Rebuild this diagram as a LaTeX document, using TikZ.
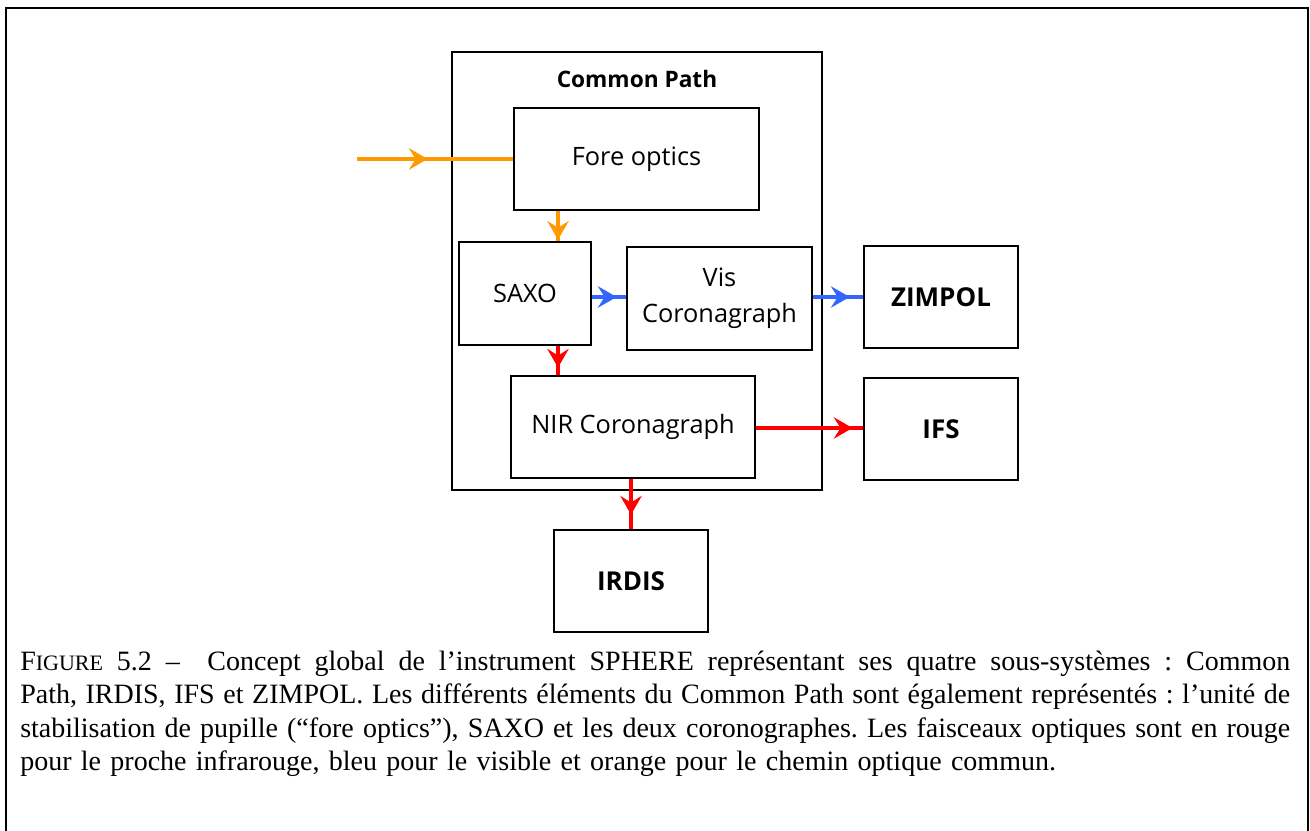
\documentclass[tikz,border=0pt]{standalone}
\usepackage{fontspec}
\setmainfont{Liberation Serif}
\newfontfamily\dfont{Open Sans}
\usetikzlibrary{arrows.meta}
\definecolor{cO}{HTML}{FF9900}
\definecolor{cB}{HTML}{3366FF}
\definecolor{cR}{HTML}{FF0000}
\newcommand\capline[1]{\makebox[952.5pt][s]{\spaceskip=0pt\xspaceskip=0pt\frenchspacing #1}}
\tikzset{
  box/.style={draw, line width=1.1pt, inner sep=0pt, align=center,
    font=\dfont\fontsize{19}{27}\selectfont},
  sub/.style={box, font=\dfont\bfseries\fontsize{19.5}{24}\selectfont,
    minimum width=115.5pt, minimum height=76.5pt},
  ln/.style={line width=2.5pt, draw=#1},
  tipped/.style={ln=#1, -{Stealth[length=14pt,width=16pt,inset=5pt,fill=#1]}}
}
\begin{document}
\begin{tikzpicture}[x={(0.75pt,0)}, y={(0,-0.75pt)}]
\useasboundingbox (0,0) rectangle (1310,831);
% outer frame
\draw[line width=1.5pt] (6,831) -- (6,8) -- (1308,8) -- (1308,831);
% common path
\node[box, minimum width=277.5pt, minimum height=328.5pt] (cp) at (637,271) {};
\node[font=\dfont\bfseries\fontsize{17}{20}\selectfont] (cpl) at (637,79) {Common Path};
\node[box, minimum width=183.75pt, minimum height=76.5pt] (fore) at (636.5,159) {Fore optics};
\node[box, minimum width=99pt, minimum height=77.25pt] (saxo) at (525,293.5) {SAXO};
\node[box, minimum width=138.75pt, minimum height=77.25pt] (vis) at (719.5,298.5) {Vis\\Coronagraph};
\node[box, minimum width=183pt, minimum height=76.5pt] (nir) at (633,427) {NIR Coronagraph};
\node[sub] (zimpol) at (941,297) {ZIMPOL};
\node[sub] (ifs) at (941,429) {IFS};
\node[sub] (irdis) at (631,581) {IRDIS};
% helper coordinates
\coordinate (in) at (357,159);
\coordinate (c1) at (558,0);
\coordinate (c2) at (631,0);
\coordinate (r1) at (0,297);
\coordinate (r2) at (0,428);
% connector geometry
\coordinate (a1) at (fore.south -| c1); \coordinate (b1) at (saxo.north -| c1);
\coordinate (a2) at (saxo.east |- r1);  \coordinate (b2) at (vis.west |- r1);
\coordinate (a3) at (vis.east |- r1);   \coordinate (b3) at (zimpol.west |- r1);
\coordinate (a4) at (saxo.south -| c1); \coordinate (b4) at (nir.north -| c1);
\coordinate (a5) at (nir.east |- r2);   \coordinate (b5) at (ifs.west |- r2);
\coordinate (a6) at (nir.south -| c2);  \coordinate (b6) at (irdis.north -| c2);
\path (in) -- (fore.west) coordinate[pos=0.452] (t0);
\path (a1) -- (b1) coordinate[pos=0.95] (t1);
\path (a2) -- (b2) coordinate[pos=0.72] (t2);
\path (a3) -- (b3) coordinate[pos=0.73] (t3);
\path (a4) -- (b4) coordinate[pos=0.74] (t4);
\path (a5) -- (b5) coordinate[pos=0.90] (t5);
\path (a6) -- (b6) coordinate[pos=0.71] (t6);
% connectors
\draw[ln=cO] (in) -- (fore.west);  \draw[tipped=cO] (in) -- (t0);
\draw[ln=cO] (a1) -- (b1);  \draw[tipped=cO] (a1) -- (t1);
\draw[ln=cB] (a2) -- (b2);  \draw[tipped=cB] (a2) -- (t2);
\draw[ln=cB] (a3) -- (b3);  \draw[tipped=cB] (a3) -- (t3);
\draw[ln=cR] (a4) -- (b4);  \draw[tipped=cR] (a4) -- (t4);
\draw[ln=cR] (a5) -- (b5);  \draw[tipped=cR] (a5) -- (t5);
\draw[ln=cR] (a6) -- (b6);  \draw[tipped=cR] (a6) -- (t6);
% caption
\node[anchor=north west, inner sep=0pt, text width=952.5pt, align=left,
  font=\fontsize{21}{25}\selectfont] (cap) at (20,647) {%
\capline{\strut F{\fontsize{16.5}{25}\selectfont IGURE} 5.2 -- \ Concept global de l’instrument SPHERE représentant ses quatre sous-systèmes : Common}\\
\capline{Path, IRDIS, IFS et ZIMPOL. Les différents éléments du Common Path sont également représentés : l’unité de}\\
\capline{stabilisation de pupille (“fore optics”), SAXO et les deux coronographes. Les faisceaux optiques sont en rouge}\\
pour le proche infrarouge, bleu pour le visible et orange pour le chemin optique commun.};
\end{tikzpicture}
\end{document}
